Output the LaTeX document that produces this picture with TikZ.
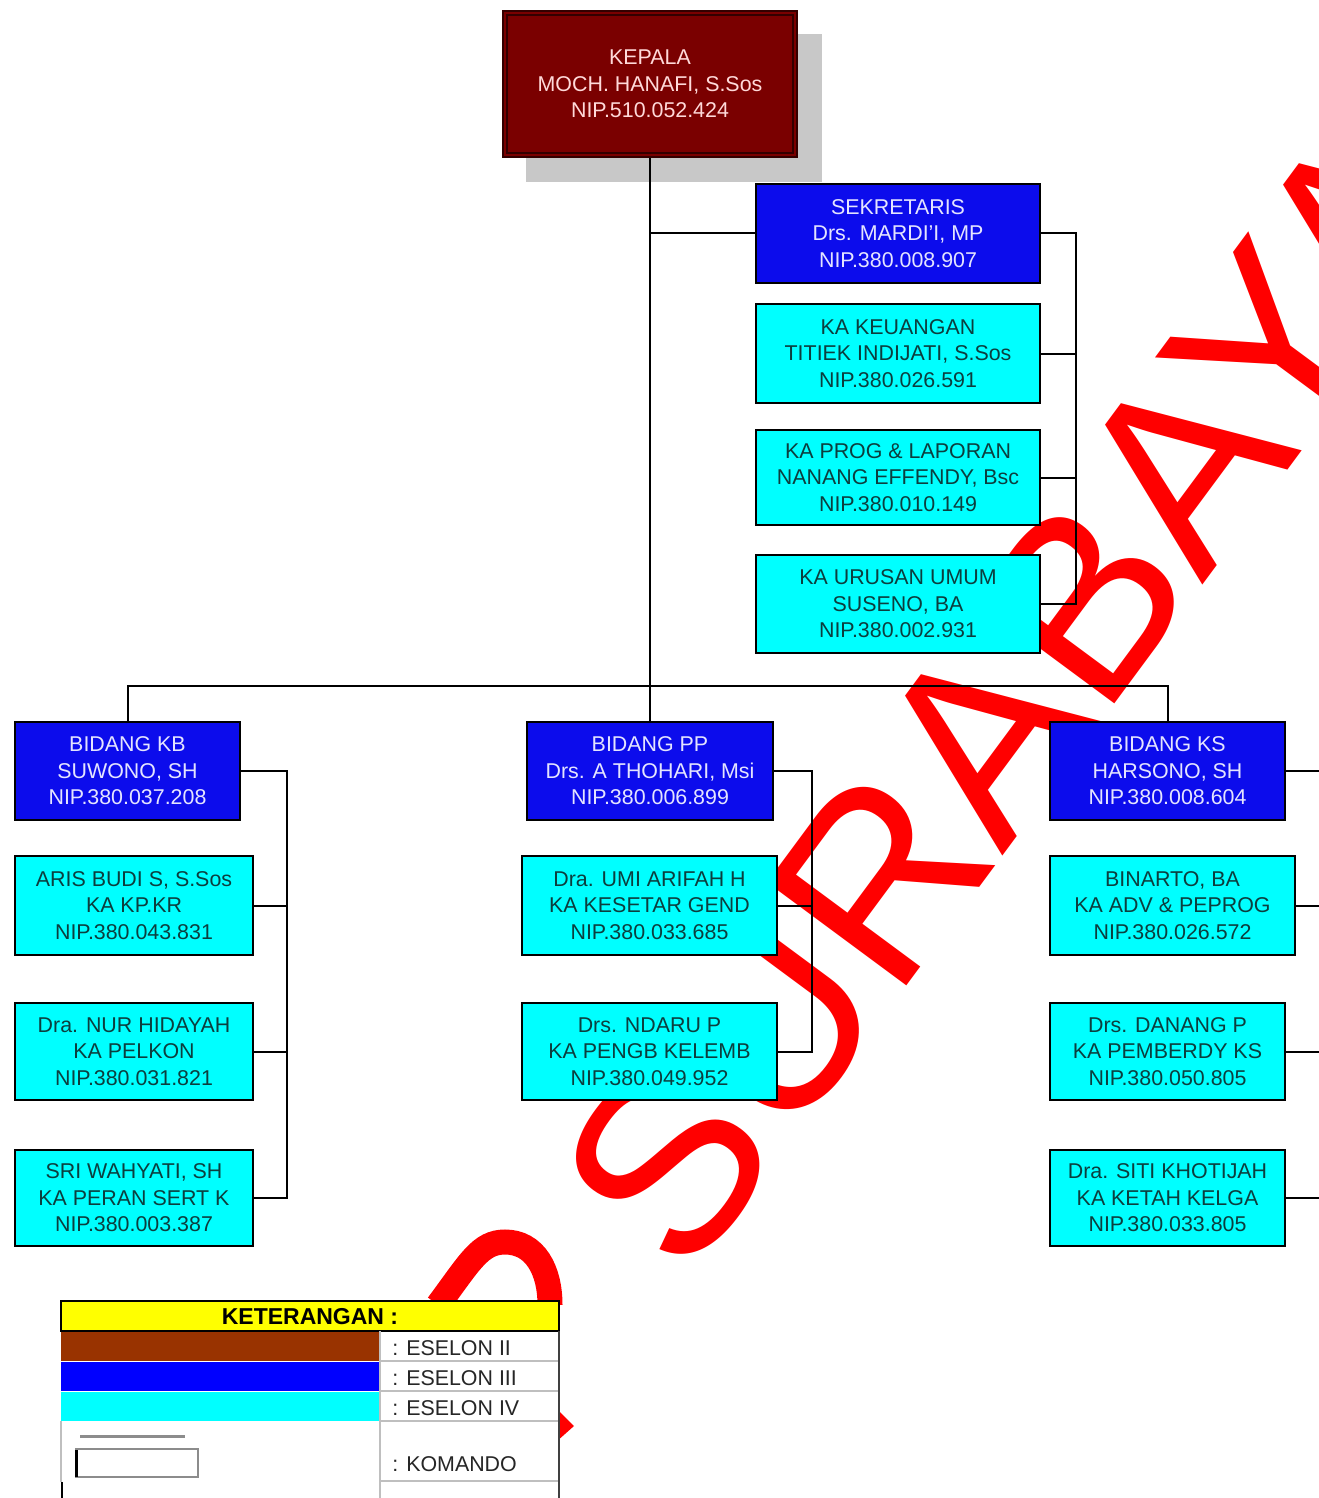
\documentclass[tikz,border=0pt]{standalone}
\usepackage{fontspec}
\setmainfont{Liberation Sans}
\usetikzlibrary{calc}
\pgfdeclarelayer{background}
\pgfsetlayers{background,main}
\definecolor{merahtua}{RGB}{122,0,0}
\definecolor{birubox}{RGB}{12,12,236}
\definecolor{birutext}{RGB}{228,228,255}
\definecolor{tosca}{RGB}{0,255,255}
\definecolor{toscatext}{RGB}{12,62,62}
\definecolor{coklat}{RGB}{153,51,0}
\definecolor{birulegend}{RGB}{0,0,255}
\definecolor{kuning}{RGB}{255,255,0}
\definecolor{bayangan}{RGB}{200,200,200}
\tikzset{
  kotak/.style={draw=black, line width=1pt, align=center, inner sep=0pt,
    font=\fontsize{10.7}{13.3}\selectfont},
  sz/.style 2 args={minimum width=#1*0.5pt, minimum height=#2*0.5pt},
  eselondua/.style={kotak, fill=merahtua, draw=black!80!red, text=red!15!white},
  eselontiga/.style={kotak, fill=birubox, text=birutext},
  eselonempat/.style={kotak, fill=tosca, text=toscatext},
  garis/.style={line width=1pt, black},
  legteks/.style={anchor=west, inner sep=0pt, text=black!85,
    font=\fontsize{10.7}{12}\selectfont},
  watermark/.style={text=red, inner sep=0pt, font=\fontsize{126}{126}\selectfont}
}

\begin{document}
\begin{tikzpicture}[x=0.5pt,y=-0.5pt]
  \useasboundingbox (0,0) rectangle (1318,1498);

  \node[eselondua,sz={294}{146}] (kepala) at (650,84) {KEPALA\\MOCH. HANAFI, S.Sos\\NIP.510.052.424};
  \draw[black!80!red,line width=1pt] ([shift={(2.5pt,-2.5pt)}]kepala.north west) rectangle ([shift={(-2.5pt,2.5pt)}]kepala.south east);

  \node[eselontiga,sz={284}{99}] (sek) at (898,233.5) {SEKRETARIS\\Drs. MARDI'I, MP\\NIP.380.008.907};
  \node[eselonempat,sz={284}{99}] (keu) at (898,353.5) {KA KEUANGAN\\TITIEK INDIJATI, S.Sos\\NIP.380.026.591};
  \node[eselonempat,sz={284}{95}] (prog) at (898,477.5) {KA PROG \& LAPORAN\\NANANG EFFENDY, Bsc\\NIP.380.010.149};
  \node[eselonempat,sz={284}{98}] (umum) at (898,604) {KA URUSAN UMUM\\SUSENO, BA\\NIP.380.002.931};

  \node[eselontiga,sz={225}{98}] (kb) at (127.5,771) {BIDANG KB\\SUWONO, SH\\NIP.380.037.208};
  \node[eselonempat,sz={238}{99}] (aris) at (134,905.5) {ARIS BUDI S, S.Sos\\KA KP.KR\\NIP.380.043.831};
  \node[eselonempat,sz={238}{97}] (nur) at (134,1051.5) {Dra. NUR HIDAYAH\\KA PELKON\\NIP.380.031.821};
  \node[eselonempat,sz={238}{96}] (sri) at (134,1198) {SRI WAHYATI, SH\\KA PERAN SERT K\\NIP.380.003.387};

  \node[eselontiga,sz={246}{98}] (pp) at (650,771) {BIDANG PP\\Drs. A THOHARI, Msi\\NIP.380.006.899};
  \node[eselonempat,sz={255}{99}] (umi) at (649.5,905.5) {Dra. UMI ARIFAH H\\KA KESETAR GEND\\NIP.380.033.685};
  \node[eselonempat,sz={255}{97}] (ndaru) at (649.5,1051.5) {Drs. NDARU P\\KA PENGB KELEMB\\NIP.380.049.952};

  \node[eselontiga,sz={235}{98}] (ks) at (1167.5,771) {BIDANG KS\\HARSONO, SH\\NIP.380.008.604};
  \node[eselonempat,sz={245}{99}] (binarto) at (1172.5,905.5) {BINARTO, BA\\KA ADV \& PEPROG\\NIP.380.026.572};
  \node[eselonempat,sz={235}{97}] (danang) at (1167.5,1051.5) {Drs. DANANG P\\KA PEMBERDY KS\\NIP.380.050.805};
  \node[eselonempat,sz={235}{96}] (siti) at (1167.5,1198) {Dra. SITI KHOTIJAH\\KA KETAH KELGA\\NIP.380.033.805};

  \coordinate (bidangbus) at (0,686);
  \coordinate (sekbus) at (1076,0);
  \coordinate (kbbus) at (287,0);
  \coordinate (ppbus) at (812,0);
  \coordinate (ksbus) at (1340,0);

  \draw[garis] (kepala.south) -- (pp.north);
  \draw[garis] (sek.west) -- (sek.west -| kepala.south);
  \draw[garis] (kb.north) -- (kb.north |- bidangbus) -- (ks.north |- bidangbus) -- (ks.north);
  \draw[garis] (sek.east) -- (sek.east -| sekbus) -- (umum.east -| sekbus) -- (umum.east);
  \draw[garis] (keu.east) -- (keu.east -| sekbus) (prog.east) -- (prog.east -| sekbus);
  \draw[garis] (kb.east) -- (kb.east -| kbbus) -- (sri.east -| kbbus) -- (sri.east);
  \draw[garis] (aris.east) -- (aris.east -| kbbus) (nur.east) -- (nur.east -| kbbus);
  \draw[garis] (pp.east) -- (pp.east -| ppbus) -- (ndaru.east -| ppbus) -- (ndaru.east);
  \draw[garis] (umi.east) -- (umi.east -| ppbus);
  \foreach \n in {ks,binarto,danang,siti}
    \draw[garis] (\n.east) -- (\n.east -| ksbus);

  \begin{pgfonlayer}{background}
    \fill[bayangan] ($(kepala.north west)+(24,24)$) rectangle ($(kepala.south east)+(24,24)$);
    \node[watermark,rotate=53.5,anchor=base west] (surabaya) at (686,1284) {SURABAYA};
    \draw[red,line width=12.5pt] (438,1305) .. controls (470,1262) and (480,1242) .. (505,1242)
      .. controls (535,1242) and (550,1270) .. (550,1305);
    \fill[red] (556,1408) -- (574,1426) -- (556,1442) -- cycle;
  \end{pgfonlayer}

  % keterangan
  \fill[white] (61,1301) rectangle (559,1498);
  \fill[kuning] (61,1301) rectangle (559,1331);
  \draw[line width=1pt] (61,1301) rectangle (559,1331);
  \node[font=\bfseries\fontsize{11.5}{12}\selectfont] (ket) at (310,1317) {KETERANGAN :};
  \fill[coklat] (61,1332) rectangle (380,1361);
  \fill[birulegend] (61,1362) rectangle (380,1391);
  \fill[tosca] (61,1392) rectangle (380,1421);
  \draw[black!25,line width=1pt] (380,1331) -- (380,1498)
    (380,1361) -- (559,1361) (380,1391) -- (559,1391) (380,1421) -- (559,1421) (380,1481) -- (559,1481)
    (61,1421) -- (61,1482);
  \draw[black!75,line width=1pt] (559,1331) -- (559,1498);
  \draw[line width=1.2pt] (62,1482) -- (62,1498);
  \draw[black!45,line width=1.5pt] (80,1436) -- (185,1436);
  \draw[black!45,line width=1pt] (76,1449) rectangle (198,1477);
  \draw[line width=1.5pt] (76,1450) -- (76,1477);
  \node[legteks] (es2) at (392,1348) {: ESELON II};
  \node[legteks] (es3) at (392,1378) {: ESELON III};
  \node[legteks] (es4) at (392,1408) {: ESELON IV};
  \node[legteks] (kom) at (392,1464) {: KOMANDO};
\end{tikzpicture}
\end{document}
